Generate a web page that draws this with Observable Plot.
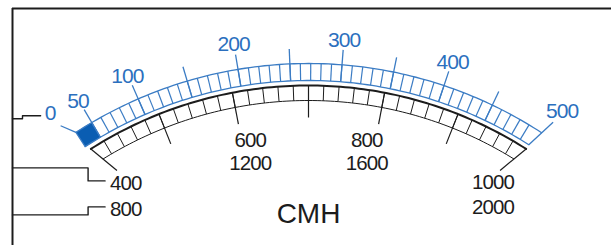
<!DOCTYPE html>
<html>
<head>
<meta charset="utf-8">
<script src="https://cdn.jsdelivr.net/npm/d3@7"></script>
<script src="https://cdn.jsdelivr.net/npm/@observablehq/plot@0.6"></script>
<style>
  html, body { margin: 0; padding: 0; background: #fff; }
  #chart svg { display: block; }
</style>
</head>
<body>
<div id="chart"></div>
<script>
// ---- data ----
const blueLabelValues = [0, 50, 100, 200, 300, 400, 500];
const blueMajorValues = [50, 100, 150, 200, 250, 300, 350, 400, 450, 500];
const blueCellStep = 10;          // blue divisions (50..500)
const blueDeadZone = [0, 50];     // filled cell
const blackMajorValues = [400, 500, 600, 700, 800, 900, 1000];
const blackCellStep = 20;
const blackTopLabels = [400, 600, 800, 1000];
const blackBottomLabels = [800, 1200, 1600, 2000];
const unitLabel = "CMH";

// ---- geometry ----
const W = 611, H = 245;
const CX = 308, CY = 490;
const R = {blueTick: 442, blueOut: 427, blueIn: 410, blackOut: 405, blackIn: 390, blackTick: 373, blueLabel: 454};
const BLUE = "#3b7cc4", BLUE_TEXT = "#2b6fbe", BLUE_FILL = "#0a5db2", INK = "#1c1c1c";
const FONT = "Liberation Sans, Arial, Helvetica, sans-serif";
const LEAN_BLUE = 1.1, LEAN_BLACK = 1.6;   // end ticks lean slightly, as drawn in the original

const blueAng = v => v <= 50 ? -33 + (v / 50) * 2.5 : -30.5 + (v - 50) * 63 / 450;
const blackAng = v => -32.5 + (v - 400) / 600 * 65;
const px = (r, a) => CX + r * Math.sin(a * Math.PI / 180);
const py = (r, a) => CY - r * Math.cos(a * Math.PI / 180);

const arc = (r, a0, a1) => d3.range(0, 101).map(i => {
  const a = a0 + (a1 - a0) * i / 100; return {x: px(r, a), y: py(r, a)};
});
const radial = (vals, ang, r1, r2) => vals.map(v => ({
  x1: px(r1, ang(v)), y1: py(r1, ang(v)), x2: px(r2, ang(v)), y2: py(r2, ang(v))
}));
const seg = (r1, a1, r2, a2) => ({x1: px(r1, a1), y1: py(r1, a1), x2: px(r2, a2), y2: py(r2, a2)});
const angAt = (r1, a1, r2, a2, r) => a1 + (a2 - a1) * (r - r1) / (r2 - r1);

const blueCells = d3.range(50, 500, blueCellStep);      // 500 drawn as end tick
const blackCells = d3.range(420, 1000, blackCellStep);  // 400 / 1000 drawn as end ticks

// blue end (500): one straight line from inner edge to tick end
const bEnd = blueAng(500);
const bEndTick = seg(R.blueIn, bEnd, R.blueTick, bEnd + LEAN_BLUE);
const bEndOut = angAt(R.blueIn, bEnd, R.blueTick, bEnd + LEAN_BLUE, R.blueOut);

// black ends (400, 1000): one straight line from outer edge to tick end
const kL = blackAng(400), kR = blackAng(1000);
const kLTick = seg(R.blackOut, kL, R.blackTick, kL + LEAN_BLACK);
const kRTick = seg(R.blackOut, kR, R.blackTick, kR - LEAN_BLACK);
const kLIn = angAt(R.blackOut, kL, R.blackTick, kL + LEAN_BLACK, R.blackIn);
const kRIn = angAt(R.blackOut, kR, R.blackTick, kR - LEAN_BLACK, R.blackIn);

// filled dead-zone cell
const a0 = blueAng(blueDeadZone[0]), a1 = blueAng(blueDeadZone[1]);
const fillPoly = [...arc(R.blueOut, a0, a1), ...arc(R.blueIn, a1, a0)];

// label anchors
const midBlue = blueLabelValues.filter(v => v !== 0 && v !== 500).map(v => ({
  x: px(R.blueLabel, blueAng(v)), y: py(R.blueLabel, blueAng(v)), t: String(v)}));
const zeroTickEnd = {x: px(441, blueAng(0) - 1.2), y: py(441, blueAng(0) - 1.2)};
const zeroLabel = {x: zeroTickEnd.x - 5, y: zeroTickEnd.y - 12, t: "0"};
const endBlue = {x: px(R.blueTick, blueAng(500)), y: py(R.blueTick, blueAng(500)), t: "500"};

const leftEnd = {x: px(R.blackTick, blackAng(400)), y: py(R.blackTick, blackAng(400))};
const rightEnd = {x: px(R.blackTick, blackAng(1000)), y: py(R.blackTick, blackAng(1000))};
const midBlack = [600, 800].map(v => {
  const i = blackTopLabels.indexOf(v);
  return {x: px(355, blackAng(v) * 0.87), y: py(355, blackAng(v) * 0.87),
          top: String(blackTopLabels[i]), bottom: String(blackBottomLabels[i])};
});
const leftLabels = [
  {x: leftEnd.x + 2, y: leftEnd.y + 8, t: String(blackTopLabels[0])},
  {x: leftEnd.x + 2, y: leftEnd.y + 34, t: String(blackBottomLabels[0])}
];
const rightLabels = [
  {x: rightEnd.x + 5, y: rightEnd.y + 7, t: String(blackTopLabels[3])},
  {x: rightEnd.x + 5, y: rightEnd.y + 32, t: String(blackBottomLabels[3])}
];

// frame + leader lines (derived from label anchors)
const FL = 12, FT = 8;
const leaders = [
  [{x: FL, y: zeroLabel.y + 5}, {x: FL + 10, y: zeroLabel.y + 5}, {x: FL + 10, y: zeroLabel.y + 2}, {x: zeroLabel.x - 15, y: zeroLabel.y + 2}],
  [{x: FL, y: leftLabels[0].y - 16}, {x: leftLabels[0].x - 22, y: leftLabels[0].y - 16}, {x: leftLabels[0].x - 22, y: leftLabels[0].y - 3}, {x: leftLabels[0].x - 5, y: leftLabels[0].y - 3}],
  [{x: FL, y: leftLabels[1].y + 5}, {x: leftLabels[1].x - 22, y: leftLabels[1].y + 5}, {x: leftLabels[1].x - 22, y: leftLabels[1].y - 3}, {x: leftLabels[1].x - 5, y: leftLabels[1].y - 3}]
];

const L = {x1: "x1", y1: "y1", x2: "x2", y2: "y2"};
const plot = Plot.plot({
  width: W, height: H, margin: 0,
  x: {domain: [0, W], axis: null},
  y: {domain: [H, 0], axis: null},
  style: {background: "#fff", fontFamily: FONT},
  marks: [
    // frame
    Plot.ruleY([FT], {x1: FL, x2: W, stroke: INK, strokeWidth: 2}),
    Plot.ruleX([FL], {y1: FT, y2: H, stroke: INK, strokeWidth: 2}),
    ...leaders.map(l => Plot.line(l, {x: "x", y: "y", stroke: INK, strokeWidth: 1.4})),

    // blue scale
    Plot.line(fillPoly, {x: "x", y: "y", fill: BLUE_FILL, stroke: BLUE_FILL, strokeWidth: 0.5}),
    Plot.line(arc(R.blueOut, blueAng(0), bEndOut), {x: "x", y: "y", stroke: BLUE, strokeWidth: 1.3}),
    Plot.line(arc(R.blueIn, blueAng(0), bEnd), {x: "x", y: "y", stroke: BLUE, strokeWidth: 1.3}),
    Plot.link(radial([0, ...blueCells], blueAng, R.blueIn, R.blueOut), {...L, stroke: BLUE, strokeWidth: 1.2}),
    Plot.link(radial(blueMajorValues.filter(v => v !== 500), blueAng, R.blueIn, R.blueTick), {...L, stroke: BLUE, strokeWidth: 1.3}),
    Plot.link([bEndTick], {...L, stroke: BLUE, strokeWidth: 1.3}),
    Plot.link([{x1: px(R.blueOut, blueAng(0)), y1: py(R.blueOut, blueAng(0)), x2: zeroTickEnd.x, y2: zeroTickEnd.y}], {...L, stroke: BLUE, strokeWidth: 1.3}),
    Plot.text(midBlue, {x: "x", y: "y", text: "t", dy: 2, fill: BLUE_TEXT, fontSize: 21, textAnchor: "middle", lineAnchor: "middle"}),
    Plot.text([zeroLabel], {x: "x", y: "y", text: "t", fill: BLUE_TEXT, fontSize: 21, textAnchor: "end", lineAnchor: "middle"}),
    Plot.text([endBlue], {x: "x", y: "y", text: "t", dy: -6, fill: BLUE_TEXT, fontSize: 21, textAnchor: "start", lineAnchor: "middle"}),

    // black scale
    Plot.line(arc(R.blackIn, kLIn, kRIn), {x: "x", y: "y", stroke: INK, strokeWidth: 1}),
    Plot.link(radial(blackCells, blackAng, R.blackIn, R.blackOut), {...L, stroke: INK, strokeWidth: 1}),
    Plot.link(radial(blackMajorValues.filter(v => v !== 400 && v !== 1000), blackAng, R.blackOut, R.blackTick), {...L, stroke: INK, strokeWidth: 1.2}),
    Plot.link([kLTick, kRTick], {...L, stroke: INK, strokeWidth: 1.2}),
    Plot.line(arc(R.blackOut, kL, kR), {x: "x", y: "y", stroke: INK, strokeWidth: 2}),
    Plot.text(midBlack, {x: "x", y: "y", text: "top", fill: INK, fontSize: 20.5, textAnchor: "middle", lineAnchor: "middle"}),
    Plot.text(midBlack, {x: "x", y: "y", text: "bottom", dy: 23, fill: INK, fontSize: 20.5, textAnchor: "middle", lineAnchor: "middle"}),
    Plot.text(leftLabels, {x: "x", y: "y", text: "t", fill: INK, fontSize: 20.5, textAnchor: "start", lineAnchor: "middle"}),
    Plot.text(rightLabels, {x: "x", y: "y", text: "t", fill: INK, fontSize: 20.5, textAnchor: "end", lineAnchor: "middle"}),

    Plot.text([{x: CX, y: CY - 276, t: unitLabel}], {x: "x", y: "y", text: "t", fill: INK, fontSize: 28, textAnchor: "middle", lineAnchor: "middle"})
  ]
});
// slightly condensed digits, as in the original lettering
d3.select(plot).selectAll("text").filter(function() { return /^\d+$/.test(this.textContent); })
  .style("letter-spacing", "-0.9px");
document.getElementById("chart").appendChild(plot);
</script>
</body>
</html>
